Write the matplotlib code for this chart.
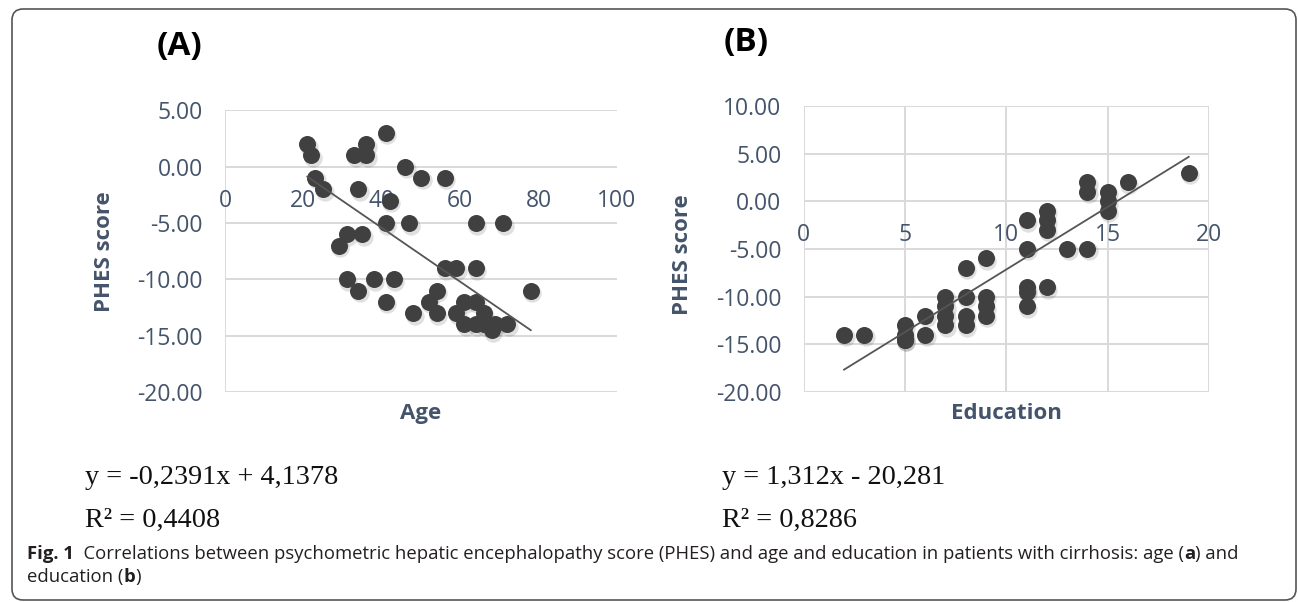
import numpy as np
import matplotlib
matplotlib.use("Agg")
import matplotlib.pyplot as plt
import matplotlib.transforms as mtransforms
from matplotlib.patches import FancyBboxPatch
from matplotlib.ticker import FormatStrFormatter

# panel A: age vs PHES
age = [21, 22, 23, 25, 33, 36, 36, 41, 34, 42, 46, 50, 56, 41, 47, 64, 71,
       31, 35, 29, 56, 59, 64, 31, 38, 43, 34, 54, 78, 41, 52, 61, 64,
       48, 54, 59, 66, 61, 64, 66, 69, 72, 68]
phes_age = [2, 1, -1, -2, 1, 2, 1, 3, -2, -3, 0, -1, -1, -5, -5, -5, -5,
            -6, -6, -7, -9, -9, -9, -10, -10, -10, -11, -11, -11, -12, -12, -12, -12,
            -13, -13, -13, -13, -14, -14, -14, -14, -14, -14.5]

# panel B: education vs PHES
edu = [2, 3, 5, 5, 5, 5, 6, 6, 7, 7, 7, 7, 8, 8, 8, 8, 9, 9, 9, 9,
       11, 11, 11, 11, 11, 12, 12, 12, 12, 13, 14, 14, 14, 15, 15, 15, 16, 19]
phes_edu = [-14, -14, -13, -14, -14.5, -14.5, -12, -14, -10, -11, -12, -13,
            -7, -10, -12, -13, -6, -10, -11, -12,
            -2, -5, -9, -9.5, -11, -1, -2, -3, -9, -5, -5, 2, 1, 1, 0, -1, 2, 3]

fit_age = (-0.2391, 4.1378)
fit_edu = (1.312, -20.281)
eq_age = ["y = -0,2391x + 4,1378", "R² = 0,4408"]
eq_edu = ["y = 1,312x - 20,281", "R² = 0,8286"]

plt.rcParams['axes.unicode_minus'] = False
plt.rcParams['font.family'] = ['Open Sans', 'DejaVu Sans']

TXT = '#44546A'
GRID = '#d9d9d9'
DOT = '#404040'

W, H = 1298, 602
fig = plt.figure(figsize=(W / 100, H / 100), dpi=100)


def px_axes(l, t, r, b):
    return fig.add_axes([l / W, 1 - b / H, (r - l) / W, (b - t) / H])


def panel(ax, x, y, fit, xt, yt, xlab, vgrid):
    ax.set_xlim(xt[0], xt[-1])
    ax.set_ylim(yt[0], yt[-1])
    for s in ax.spines.values():
        s.set_visible(False)
    for v in yt:
        ax.axhline(v, color=GRID, lw=1.4, zorder=0)
    if vgrid:
        for v in xt:
            ax.axvline(v, color=GRID, lw=1.4, zorder=0)
    else:
        ax.axvline(xt[0], color=GRID, lw=1.4, zorder=0)
    ax.set_xticks(xt)
    ax.set_yticks(yt)
    ax.yaxis.set_major_formatter(FormatStrFormatter('%.2f'))
    ax.spines['bottom'].set_position(('data', 0))
    ax.tick_params(axis='x', length=0, pad=16, labelsize=16.5, labelcolor=TXT)
    ax.tick_params(axis='y', length=0, pad=16, labelsize=16.5, labelcolor=TXT)

    shadow = mtransforms.offset_copy(ax.transData, fig=fig, x=1.5, y=-2.5, units='dots')
    ax.scatter(x, y, s=175, color='#000000', alpha=0.12, lw=0, transform=shadow, zorder=2)
    ax.scatter(x, y, s=150, color=DOT, lw=0, zorder=3)

    xs = np.array([min(x), max(x)])
    ax.plot(xs, fit[0] * xs + fit[1], color='#555555', lw=1.3, zorder=4)

    ax.set_ylabel('PHES score', fontsize=16, fontweight='bold', color=TXT)
    ax.text(0.5, -0.075, xlab, transform=ax.transAxes, ha='center', va='center',
            fontsize=16, fontweight='bold', color=TXT)


axA = px_axes(225, 110.4, 617, 392)
panel(axA, age, phes_age, fit_age, [0, 20, 40, 60, 80, 100],
      [-20, -15, -10, -5, 0, 5], 'Age', False)
axA.yaxis.set_label_coords(-0.281, 0.5)

axB = px_axes(803.5, 105.8, 1209, 392)
panel(axB, edu, phes_edu, fit_edu, [0, 5, 10, 15, 20],
      [-20, -15, -10, -5, 0, 5, 10], 'Education', True)
axB.yaxis.set_label_coords(-0.2725, 0.48)

fig.text(180 / W, 1 - 47 / H, '(A)', fontsize=24, fontweight='bold', ha='center', va='center')
fig.text(746 / W, 1 - 42 / H, '(B)', fontsize=24, fontweight='bold', ha='center', va='center')

for x0, eqs in [(85, eq_age), (722, eq_edu)]:
    for yy, s in zip([477, 520], eqs):
        fig.text(x0 / W, 1 - yy / H, s, fontsize=20.3, family='Liberation Serif',
                 ha='left', va='center', color='#111111')

# caption, drawn in pieces so bold parts sit inline
renderer = fig.canvas.get_renderer()


def line(parts, x, y):
    for s, bold in parts:
        t = fig.text(x / W, 1 - y / H, s, fontsize=13.3, ha='left', va='center',
                     fontweight='bold' if bold else 'normal', color='#231f20')
        x += t.get_window_extent(renderer).width


line([('Fig. 1', True),
      ('  Correlations between psychometric hepatic encephalopathy score (PHES) and age and education in patients with cirrhosis: age (', False),
      ('a', True), (') and', False)], 27, 554)
line([('education (', False), ('b', True), (')', False)], 27, 577)

border = FancyBboxPatch((12, 2), 1284, 591, boxstyle='round,pad=0,rounding_size=11',
                        transform=None, fill=False, ec='#555555', lw=1.2)
fig.patches.append(border)

fig.savefig('out.png', dpi=100)
